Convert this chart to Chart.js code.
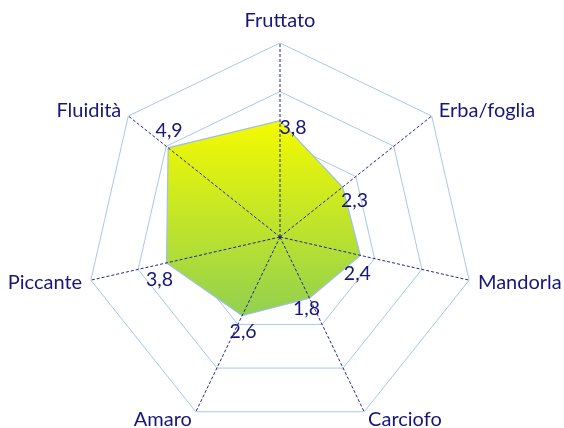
<!DOCTYPE html>
<html><head><meta charset="utf-8">
<script src="https://cdn.jsdelivr.net/npm/chart.js@4/dist/chart.umd.min.js"></script>
<style>
html,body{margin:0;padding:0;width:564px;height:428px;overflow:hidden;background:#fff}
#wrap{position:relative;width:564px;height:474px}
</style></head><body>
<div id="wrap"><canvas id="c"></canvas></div>
<script>
// ---- data ----
const categories = ["Fruttato", "Erba/foglia", "Mandorla", "Carciofo", "Amaro", "Piccante", "Fluidità"];
const values = [3.8, 2.3, 2.4, 1.8, 2.6, 3.8, 4.9];
const scaleMin = -1;
const scaleMax = 7;
const scaleStep = 2;

// ---- style ----
const TEXT = '#16167c';
const FONT = '20px Lato';
const VFONT = '19.5px Lato';
const AXIS = '#22228c';
const RING = '#a9c6ee';
const labelOffsets = [[13, 7], [12, 14], [-3, 18], [-3, 11], [1, 16], [-7, 17], [1, -17]];
const fmt = v => v.toFixed(1).replace('.', ',');

const overlay = {
  id: 'overlay',
  afterDatasetsDraw(chart) {
    const s = chart.scales.r, ctx = chart.ctx;
    ctx.save();
    // angle lines on top of the fill
    ctx.strokeStyle = AXIS; ctx.lineWidth = 1; ctx.setLineDash([3, 2]);
    categories.forEach((_, i) => {
      const p = s.getPointPosition(i, s.drawingArea);
      ctx.beginPath(); ctx.moveTo(s.xCenter, s.yCenter); ctx.lineTo(p.x, p.y); ctx.stroke();
    });
    ctx.setLineDash([]);
    ctx.fillStyle = AXIS;
    ctx.beginPath(); ctx.arc(s.xCenter, s.yCenter, 1.5, 0, Math.PI * 2); ctx.fill();
    // category labels
    ctx.fillStyle = TEXT; ctx.font = FONT;
    categories.forEach((name, i) => {
      const a = s.getIndexAngle(i);
      const sn = Math.sin(a);
      if (Math.abs(sn) < 0.05) {
        const p = s.getPointPosition(i, s.drawingArea + 16);
        ctx.textAlign = 'center'; ctx.textBaseline = 'alphabetic';
        ctx.fillText(name, p.x, p.y);
      } else {
        const p = s.getPointPosition(i, s.drawingArea + 9);
        ctx.textAlign = sn > 0 ? 'left' : 'right'; ctx.textBaseline = 'middle';
        ctx.fillText(name, p.x, p.y);
      }
    });
    // value labels
    const meta = chart.getDatasetMeta(0);
    ctx.font = VFONT;
    ctx.textAlign = 'center'; ctx.textBaseline = 'middle';
    meta.data.forEach((pt, i) => {
      const o = labelOffsets[i];
      ctx.fillText(fmt(values[i]), pt.x + o[0], pt.y + o[1]);
    });
    ctx.restore();
  }
};

new Chart(document.getElementById('c'), {
  type: 'radar',
  data: {
    labels: categories,
    datasets: [{
      data: values,
      fill: 'start',
      borderColor: '#9fbfe6',
      borderWidth: 1.2,
      pointRadius: 0,
      backgroundColor(ctx) {
        const chart = ctx.chart, s = chart.scales.r;
        if (!s || !chart.chartArea) return '#c8e620';
        let top = Infinity, bot = -Infinity;
        values.forEach((v, i) => {
          const p = s.getPointPositionForValue(i, v);
          top = Math.min(top, p.y); bot = Math.max(bot, p.y);
        });
        const g = chart.ctx.createLinearGradient(0, top, 0, bot);
        g.addColorStop(0, '#f4fa00');
        g.addColorStop(1, '#92d050');
        return g;
      }
    }]
  },
  options: {
    responsive: true,
    maintainAspectRatio: false,
    animation: false,
    layout: { padding: { left: 86, right: 90, top: 0, bottom: 0 } },
    plugins: { legend: { display: false }, tooltip: { enabled: false } },
    scales: {
      r: {
        min: scaleMin, max: scaleMax,
        ticks: { stepSize: scaleStep, display: false },
        grid: { color: RING, lineWidth: 1 },
        angleLines: { display: false },
        pointLabels: { display: false }
      }
    }
  },
  plugins: [overlay]
});
</script>
</body></html>
